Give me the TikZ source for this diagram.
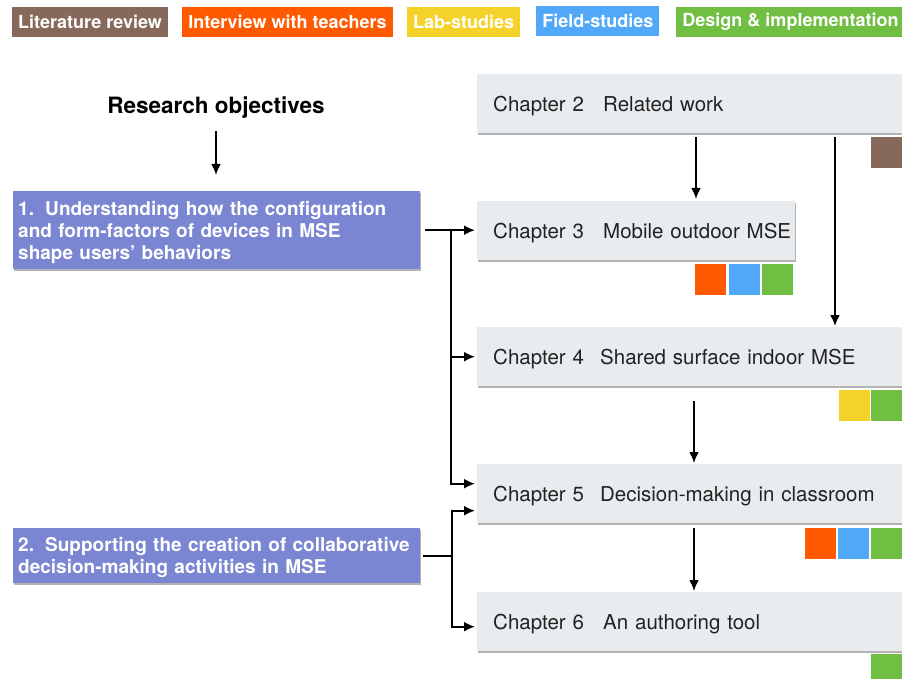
\documentclass[tikz,border=0pt]{standalone}
\usepackage{fontspec}
\setmainfont{TeX Gyre Heros}
\usetikzlibrary{arrows.meta,shapes,positioning,shadows}
\definecolor{litbrown}{HTML}{86695B}
\definecolor{intorange}{HTML}{FF5A00}
\definecolor{labyellow}{HTML}{F5D22A}
\definecolor{fieldblue}{HTML}{52A8F8}
\definecolor{dsgngreen}{HTML}{70BE42}
\definecolor{objblue}{HTML}{7A86D2}
\definecolor{chapgray}{HTML}{E9ECEF}
\definecolor{chaptext}{HTML}{222222}
\newcommand{\chapline}[3]{\hspace*{16pt}\makebox[#1][l]{Chapter #2}#3}
\tikzset{
    raw legend entry/.style={rectangle, inner xsep=6pt, inner ysep=0pt, minimum height=30pt, text=white, font=\fontsize{18}{20}\selectfont\bfseries},
    legend lit/.style={raw legend entry, fill=litbrown},
    legend int/.style={raw legend entry, fill=intorange},
    legend lab/.style={raw legend entry, fill=labyellow},
    legend field/.style={raw legend entry, fill=fieldblue},
    legend dsgn/.style={raw legend entry, fill=dsgngreen},
    chapter/.style={rectangle, fill=chapgray, anchor=north west, minimum height=59pt, inner xsep=0pt, inner ysep=0pt, text depth=0pt, align=left, text=chaptext, font=\fontsize{20.5}{24}\selectfont, drop shadow={shadow xshift=1pt, shadow yshift=-2pt, fill=black!50, opacity=0.6}},
    objective/.style={rectangle, fill=objblue, anchor=north west, inner xsep=5pt, inner ysep=0pt, text width=397pt, align=left, text=white, font=\fontsize{19}{22}\selectfont\bfseries, drop shadow={shadow xshift=1pt, shadow yshift=-2pt, fill=black!50, opacity=0.6}},
    tag/.style={rectangle, minimum size=31pt, inner sep=0pt, anchor=north east},
    conn/.style={line width=2pt, draw}
}

\begin{document}
\begin{tikzpicture}[x=1pt, y=-1pt, >={Latex[length=11pt,width=10pt]}]
    \clip (0,0) rectangle (902,679);
    % legend
    \node[legend lit, anchor=north west] (lit) at (12,7) {Literature review};
    \node[legend int, right=14pt of lit] (int) {Interview with teachers};
    \node[legend lab, right=14pt of int] (lab) {Lab-studies};
    \node[legend field, right=16pt of lab, yshift=1pt] (field) {Field-studies};
    \node[legend dsgn, right=16pt of lab.east, xshift=140pt] (dsgn) {Design \& implementation};

    % objectives
    \node[font=\fontsize{22.5}{26}\selectfont\bfseries] (title) at (216,108) {Research objectives};
    \node[objective, minimum height=78pt] (obj1) at (13,191)
        {\hangindent=27pt\hangafter=1\makebox[27pt][l]{1.}Understanding how the configuration\\and form-factors of devices in MSE\\shape users' behaviors\par\vspace*{-4pt}};
    \node[objective, minimum height=55pt] (obj2) at (13,528)
        {\hangindent=27pt\hangafter=1\makebox[27pt][l]{2.}Supporting the creation of collaborative\\decision-making activities in MSE\par\vspace*{-4pt}};

    % chapters
    \node[chapter, text width=425pt] (ch2) at (477,74) {\chapline{110pt}{2}{Related work}};
    \node[chapter, text width=318pt] (ch3) at (477,201) {\chapline{110pt}{3}{Mobile outdoor MSE}};
    \node[chapter, text width=425pt] (ch4) at (477,327) {\chapline{107pt}{4}{Shared surface indoor MSE}};
    \node[chapter, text width=425pt] (ch5) at (477,464) {\chapline{107pt}{5}{Decision-making in classroom}};
    \node[chapter, text width=425pt] (ch6) at (477,592) {\chapline{110pt}{6}{An authoring tool}};

    % method tags
    \node[tag, fill=litbrown] (t2) at ([yshift=-3pt]ch2.south east) {};
    \node[tag, fill=dsgngreen] (t3c) at ([xshift=-2pt,yshift=-3pt]ch3.south east) {};
    \node[tag, fill=fieldblue, left=2pt of t3c] (t3b) {};
    \node[tag, fill=intorange, left=2pt of t3b] (t3a) {};
    \node[tag, fill=dsgngreen] (t4b) at ([yshift=-3pt]ch4.south east) {};
    \node[tag, fill=labyellow, left=1pt of t4b] (t4a) {};
    \node[tag, fill=dsgngreen] (t5c) at ([yshift=-4pt]ch5.south east) {};
    \node[tag, fill=fieldblue, left=2pt of t5c] (t5b) {};
    \node[tag, fill=intorange, left=1pt of t5b] (t5a) {};
    \node[tag, fill=dsgngreen] (t6) at ([yshift=-2pt]ch6.south east) {};

    % connectors
    \draw[conn, ->, shorten <=9pt, shorten >=16pt] (title.south) -- (title.south |- obj1.north);
    \draw[conn, ->, shorten <=4pt, shorten >=2pt] ([xshift=219pt]ch2.south west) -- ([xshift=219pt]ch2.south west |- ch3.north);
    \draw[conn, ->, shorten <=4pt, shorten >=1pt] ([xshift=358pt]ch2.south west) -- ([xshift=358pt]ch2.south west |- ch4.north);
    \draw[conn, ->, shorten <=15pt, shorten >=1pt] ([xshift=217pt]ch4.south west) -- ([xshift=217pt]ch4.south west |- ch5.north);
    \draw[conn, ->, shorten <=5pt, shorten >=1pt] ([xshift=217pt]ch5.south west) -- ([xshift=217pt]ch5.south west |- ch6.north);

    \coordinate (j1) at ([xshift=31pt]obj1.east);
    \draw[conn, ->, shorten <=5pt, shorten >=2pt] (obj1.east) -- (obj1.east -| ch3.west);
    \draw[conn, ->, shorten >=2pt] (j1) |- (ch4.west);
    \draw[conn, ->, shorten >=2pt] (j1) |- ([yshift=10pt]ch5.west);

    \coordinate (j2) at ([xshift=32pt]obj2.east);
    \draw[conn, shorten <=3pt] (obj2.east) -- (j2);
    \draw[conn, ->, shorten >=2pt] (j2) |- ([yshift=-17pt]ch5.west);
    \draw[conn, ->, shorten >=2pt] (j2) |- ([yshift=-5pt]ch6.west);
\end{tikzpicture}
\end{document}
